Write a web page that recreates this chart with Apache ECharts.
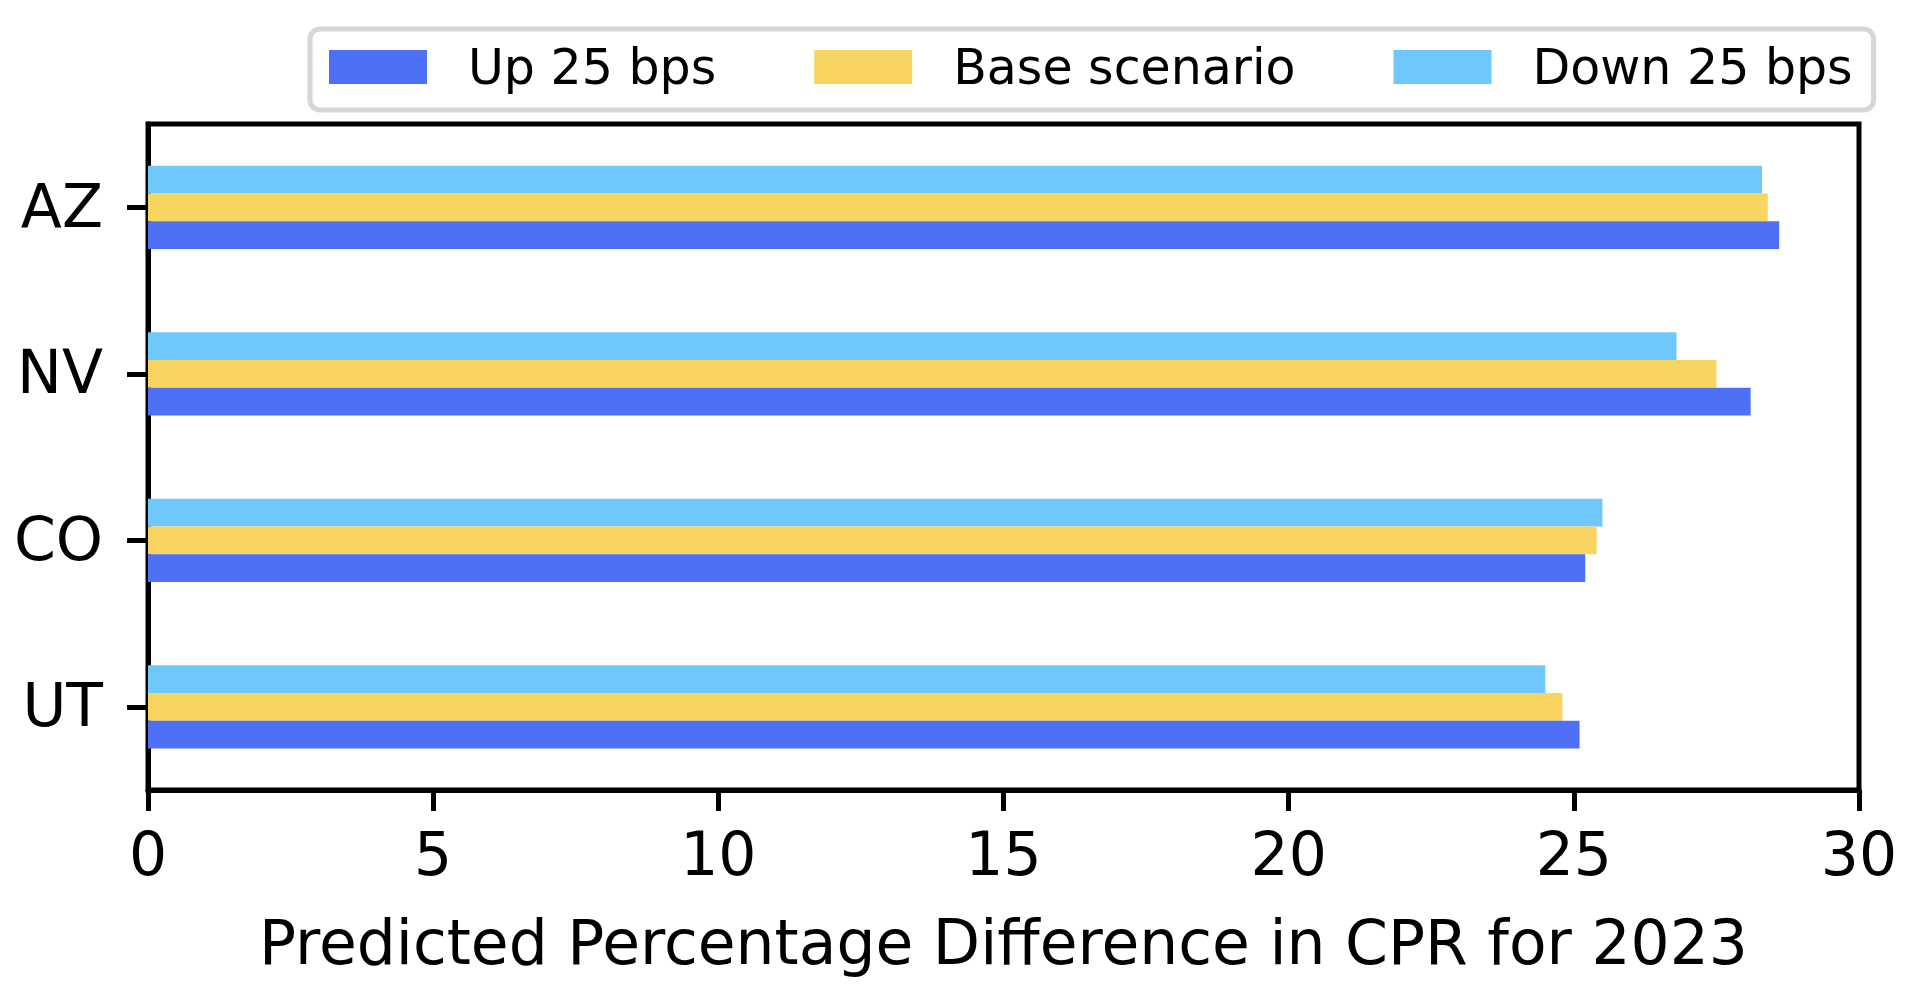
<!DOCTYPE html>
<html>
<head>
<meta charset="utf-8">
<script src="https://cdn.jsdelivr.net/npm/echarts@6/dist/echarts.min.js"></script>
<style>
html,body{margin:0;padding:0;background:#fff;}
#chart{width:1932px;height:1004px;}
</style>
</head>
<body>
<div id="chart"></div>
<script>
const categories = ['UT', 'CO', 'NV', 'AZ'];
const up25 = [25.1, 25.2, 28.1, 28.6];
const base = [24.8, 25.4, 27.5, 28.4];
const down25 = [24.5, 25.5, 26.8, 28.3];
const seriesNames = ['Up 25 bps', 'Base scenario', 'Down 25 bps'];
const xTicks = { min: 0, max: 30, interval: 5 };
const xTitle = 'Predicted Percentage Difference in CPR for 2023';

const colors = { up: '#4D70F7', base: '#F8D560', down: '#6EC8FC' };
const FONT = 'DejaVu Sans';

const chart = echarts.init(document.getElementById('chart'));
chart.setOption({
  animation: false,
  backgroundColor: '#fff',
  textStyle: { fontFamily: FONT, color: '#000' },
  grid: {
    left: 148, right: 73, top: 124, bottom: 214,
    show: true, borderColor: '#000', borderWidth: 5, backgroundColor: 'transparent',
    containLabel: false
  },
  legend: {
    data: seriesNames,
    left: 310, top: 29,
    orient: 'horizontal',
    icon: 'rect',
    itemWidth: 98, itemHeight: 34,
    itemGap: 98,
    padding: [9.5, 21, 14.5, 19],
    backgroundColor: '#fff',
    borderColor: '#d6d6d6', borderWidth: 5, borderRadius: 10,
    formatter: function (name) { return '{t|' + name + '}'; },
    textStyle: {
      fontFamily: FONT, fontSize: 49, color: '#000',
      rich: { t: { fontFamily: FONT, fontSize: 49, color: '#000', lineHeight: 50, padding: [8, 0, 0, 36] } }
    }
  },
  xAxis: {
    type: 'value',
    min: xTicks.min, max: xTicks.max, interval: xTicks.interval,
    name: xTitle,
    nameLocation: 'middle',
    nameGap: 127,
    nameTextStyle: { fontFamily: FONT, fontSize: 61.5, color: '#000' },
    axisLine: { show: true, lineStyle: { color: '#000', width: 5 } },
    axisTick: { show: true, length: 21, lineStyle: { color: '#000', width: 5 } },
    axisLabel: { fontFamily: FONT, fontSize: 60, color: '#000', margin: 39 },
    splitLine: { show: false }
  },
  yAxis: {
    type: 'category',
    data: categories,
    axisLine: { show: true, lineStyle: { color: '#000', width: 5 } },
    axisTick: { show: true, alignWithLabel: true, length: 21, lineStyle: { color: '#000', width: 5 } },
    axisLabel: {
      fontFamily: FONT, fontSize: 60, color: '#000', margin: 45,
      formatter: function (v) { return '{c|' + v + '}'; },
      rich: { c: { fontFamily: FONT, fontSize: 60, color: '#000', lineHeight: 60, padding: [8, 0, 0, 0] } }
    },
    splitLine: { show: false }
  },
  series: [
    { name: seriesNames[2], type: 'bar', data: down25, barWidth: 27.75, barGap: '0%', itemStyle: { color: colors.down } },
    { name: seriesNames[1], type: 'bar', data: base, barWidth: 27.75, barGap: '0%', itemStyle: { color: colors.base } },
    { name: seriesNames[0], type: 'bar', data: up25, barWidth: 27.75, barGap: '0%', itemStyle: { color: colors.up } }
  ]
});
</script>
</body>
</html>
